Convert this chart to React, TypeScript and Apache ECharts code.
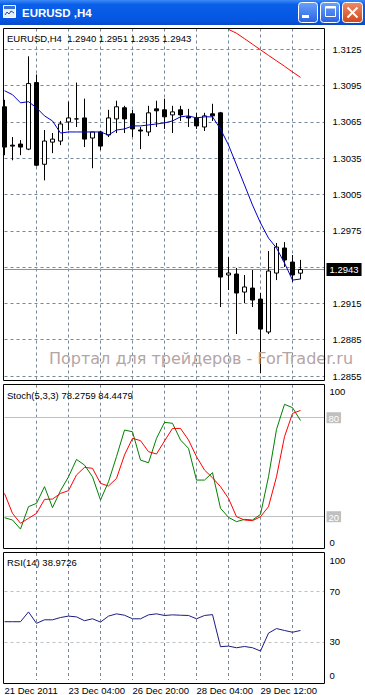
import React, { useEffect, useRef } from 'react';
import * as echarts from 'echarts';

// ---------------- data ----------------
const timeLabels = ['21 Dec 2011', '23 Dec 04:00', '26 Dec 20:00', '28 Dec 04:00', '29 Dec 12:00'];

const opens = [1.30775, 1.30458, 1.30467, 1.30425, 1.30975, 1.3030, 1.30483, 1.30492, 1.3065, 1.30675,
  1.30683, 1.30517, 1.30567, 1.30542, 1.30675, 1.30767, 1.30717, 1.30583, 1.30567, 1.30758,
  1.3075, 1.30708, 1.3075, 1.30692, 1.30683, 1.30608, 1.30717, 1.30725, 1.29385, 1.29393,
  1.29244, 1.29277, 1.29186, 1.28914, 1.29401, 1.29608, 1.29492, 1.2940];
const highs = [1.30833, 1.30525, 1.305, 1.31192, 1.31042, 1.30583, 1.30558, 1.30658, 1.30817, 1.30975,
  1.30842, 1.30567, 1.30575, 1.3075, 1.30825, 1.30783, 1.3075, 1.30608, 1.30783, 1.30825,
  1.30842, 1.30783, 1.30783, 1.30758, 1.30725, 1.30725, 1.308, 1.30733, 1.29533, 1.29443,
  1.29385, 1.29426, 1.29236, 1.29583, 1.29649, 1.29657, 1.2955, 1.2951];
const lows = [1.30375, 1.30333, 1.30375, 1.30417, 1.30283, 1.30167, 1.30392, 1.30458, 1.30583, 1.30608,
  1.30442, 1.30267, 1.30417, 1.30525, 1.30558, 1.30558, 1.30525, 1.30425, 1.30533, 1.30608,
  1.30592, 1.30558, 1.30658, 1.30608, 1.30592, 1.30575, 1.30658, 1.2912, 1.29261, 1.28897,
  1.29153, 1.2912, 1.28575, 1.28897, 1.29343, 1.29451, 1.29327, 1.2935];
const closes = [1.30442, 1.3045, 1.30442, 1.30967, 1.30292, 1.30492, 1.30508, 1.30633, 1.30683, 1.30675,
  1.30508, 1.30567, 1.3045, 1.30683, 1.30775, 1.30675, 1.30592, 1.30575, 1.30725, 1.30742,
  1.30692, 1.30733, 1.30708, 1.30683, 1.30617, 1.307, 1.307, 1.29368, 1.29401, 1.29236,
  1.29286, 1.29178, 1.28938, 1.29418, 1.29616, 1.29509, 1.29385, 1.2943];

const maBlue = [1.30908, 1.30875, 1.30808, 1.30817, 1.30767, 1.307, 1.30658, 1.30558, 1.30567, 1.30567,
  1.30567, 1.30567, 1.30567, 1.30542, 1.30583, 1.30592, 1.30617, 1.30617, 1.30625, 1.30633,
  1.30642, 1.30658, 1.30692, 1.307, 1.30683, 1.30692, 1.30692, 1.30591, 1.30459, 1.30294,
  1.30129, 1.29963, 1.29815, 1.2969, 1.29608, 1.29484, 1.29343, 1.29352];

const redLineStart = 28;
const redLine = [1.31415, 1.31383, 1.31338, 1.31292, 1.31246, 1.312, 1.31155, 1.3111, 1.31063, 1.31018];

const stochMain = [19.4, 18.0, 12.5, 26.1, 28.1, 38.2, 25.5, 35.8, 44.2, 54.7,
  51.3, 44.2, 30.1, 41.2, 56.4, 72.5, 71.5, 54.3, 52.7, 67.5,
  77.2, 76.6, 66.5, 61.4, 42.2, 42.2, 46.7, 25.1, 19.6, 17.0,
  18.4, 18.0, 21.4, 44.2, 72.9, 88.1, 86.1, 78.3];
const stochSignal = [34.1, 22.0, 16.0, 19.0, 22.0, 30.5, 30.7, 34.1, 35.8, 45.3,
  49.9, 49.3, 40.2, 38.6, 43.2, 57.4, 67.5, 66.1, 59.4, 58.0,
  65.9, 73.5, 73.5, 66.5, 56.4, 48.3, 43.6, 38.2, 31.1, 20.0,
  18.0, 17.6, 20.0, 26.1, 44.2, 68.5, 82.6, 84.4];
const rsi = [45.9, 45.9, 45.9, 53.6, 44.6, 47.4, 47.4, 49.2, 50.3, 49.7,
  46.7, 48.2, 45.6, 50.3, 52.1, 51.0, 48.2, 48.2, 51.3, 52.1,
  50.8, 51.3, 51.0, 50.8, 48.2, 50.8, 51.5, 26.2, 26.7, 25.4,
  26.4, 25.4, 22.8, 36.9, 40.5, 39.0, 37.6, 39.0];

const priceTicks = [1.3125, 1.3095, 1.3065, 1.3035, 1.3005, 1.2975, 1.2945, 1.2915, 1.2885, 1.2855];
const hiddenPriceTick = 1.2945;
const lastPrice = 1.2943;
const stochLevels = [80, 20];
const rsiLevels = [70, 30];
const slotCount = 41;

const headerText = 'EURUSD,H4  1.2940 1.2951 1.2935 1.2943';
const stochText = 'Stoch(5,3,3) 78.2759 84.4479';
const rsiText = 'RSI(14) 38.9726';
const windowTitle = 'EURUSD ,H4';
const watermark = 'Портал для трейдеров - ForTrader.ru';

const FONT = '"Liberation Sans", Arial, sans-serif';

export default function App() {
  const ref = useRef<HTMLDivElement>(null);
  useEffect(() => {
    const chart = echarts.init(ref.current!, null, { renderer: 'svg' });
    const slots = Array.from({ length: slotCount }, (_, i) => String(i));
    const candleData = opens.map((o, i) => [o, closes[i], lows[i], highs[i]]);
    const redData = slots.map((_, i) =>
      i >= redLineStart && i - redLineStart < redLine.length ? redLine[i - redLineStart] : null);

    const gridLine = { color: '#778899', type: [3, 3], width: 1 };
    const mkX = (gi: number, labels: boolean) => ({
      type: 'category', gridIndex: gi, data: slots, boundaryGap: false,
      axisLine: { show: false }, axisTick: { show: false },
      axisLabel: labels ? {
        show: true,
        interval: (i: number) => i % 8 === 0 && i / 8 < timeLabels.length,
        formatter: (v: string) => timeLabels[Number(v) / 8] ?? '',
        align: 'left', margin: 5, color: '#000', fontSize: 9.5, fontFamily: FONT,
      } : { show: false },
      splitLine: {
        show: true,
        interval: (i: number) => i % 4 === 0 && i > 0 && i < slotCount - 1,
        lineStyle: gridLine,
      },
    });
    const lbl = { color: '#000', fontSize: 9.5, fontFamily: FONT };

    const option: any = {
      animation: false,
      backgroundColor: '#fff',
      grid: [
        { left: 4.5, width: 320, top: 28.5, height: 352.5 },
        { left: 4.5, width: 320, top: 384.7, height: 165 },
        { left: 4.5, width: 320, top: 553, height: 130 },
      ],
      xAxis: [mkX(0, false), mkX(1, false), mkX(2, true)],
      yAxis: [
        {
          type: 'value', gridIndex: 0, min: 1.28509, max: 1.31422, position: 'right',
          axisLine: { show: false }, axisTick: { show: false }, splitLine: { show: false },
          axisLabel: { show: false },
        },
        {
          type: 'value', gridIndex: 1, min: 0, max: 100, interval: 20, position: 'right',
          axisLine: { show: false }, axisTick: { show: false }, splitLine: { show: false },
          axisLabel: {
            show: true, margin: 2, ...lbl,
            formatter: (v: number) => v === 100 ? '{t|100}' : v === 80 ? '{b|80}' : v === 20 ? '{b|20}' : v === 0 ? '{d|0}' : '',
            rich: {
              t: { ...lbl, padding: [14, 0, 0, 3] },
              d: { ...lbl, padding: [0, 0, 14, 3] },
              b: { ...lbl, color: '#fff', backgroundColor: '#c0c0c0', padding: [1, 2, 0, 2] },
            },
          },
        },
        {
          type: 'value', gridIndex: 2, min: 0, max: 100, interval: 10, position: 'right',
          axisLine: { show: false }, axisTick: { show: false }, splitLine: { show: false },
          axisLabel: {
            show: true, margin: 2, ...lbl,
            formatter: (v: number) => v === 100 ? '{t|100}' : v === 70 ? '{m|70}' : v === 30 ? '{m|30}' : v === 0 ? '{d|0}' : '',
            rich: {
              t: { ...lbl, padding: [14, 0, 0, 3] },
              m: { ...lbl, padding: [0, 0, 0, 3] },
              d: { ...lbl, padding: [0, 0, 10, 3] },
            },
          },
        },
      ],
      series: [
        {
          type: 'candlestick', xAxisIndex: 0, yAxisIndex: 0, data: candleData, barWidth: 4, silent: true,
          itemStyle: { color: '#fff', color0: '#000', borderColor: '#000', borderColor0: '#000', borderWidth: 1 },
          markLine: {
            silent: true, symbol: 'none', z: 1, animation: false, precision: 5,
            lineStyle: { color: '#8593a1', type: 'solid', width: 1 },
            label: {
              show: true, position: 'end', distance: 2, formatter: () => lastPrice.toFixed(4),
              color: '#fff', backgroundColor: '#000', padding: [2, 3, 1, 3], fontSize: 9.5, fontFamily: FONT,
            },
            data: [{ yAxis: lastPrice }],
          },
        },
        {
          type: 'line', xAxisIndex: 0, yAxisIndex: 0, data: maBlue, showSymbol: false, symbol: 'none', silent: true,
          lineStyle: { color: '#0000cc', width: 1 },
          markLine: {
            silent: true, symbol: 'none', z: 1, animation: false, precision: 5,
            lineStyle: gridLine,
            label: {
              show: true, position: 'end', distance: 8, ...lbl,
              formatter: (p: any) => Math.abs(p.value - hiddenPriceTick) < 1e-7 ? '' : Number(p.value).toFixed(4),
            },
            data: priceTicks.map((v) => ({ yAxis: v })),
          },
        },
        {
          type: 'line', xAxisIndex: 0, yAxisIndex: 0, data: redData, showSymbol: false, symbol: 'none', silent: true,
          lineStyle: { color: '#ff0000', width: 1 },
        },
        {
          type: 'line', xAxisIndex: 1, yAxisIndex: 1, data: stochMain, showSymbol: false, symbol: 'none', silent: true,
          lineStyle: { color: '#008000', width: 1 },
          markLine: {
            silent: true, symbol: 'none', z: 1, animation: false, label: { show: false },
            lineStyle: { color: '#c0c0c0', type: 'solid', width: 1 },
            data: stochLevels.map((v) => ({ yAxis: v })),
          },
        },
        {
          type: 'line', xAxisIndex: 1, yAxisIndex: 1, data: stochSignal, showSymbol: false, symbol: 'none', silent: true,
          lineStyle: { color: '#ff0000', width: 1 },
        },
        {
          type: 'line', xAxisIndex: 2, yAxisIndex: 2, data: rsi, showSymbol: false, symbol: 'none', silent: true,
          lineStyle: { color: '#1c1c80', width: 1 },
          markLine: {
            silent: true, symbol: 'none', z: 1, animation: false, label: { show: false },
            lineStyle: { color: '#c0c0c0', type: [3, 3], width: 1 },
            data: rsiLevels.map((v) => ({ yAxis: v })),
          },
        },
      ],
      graphic: [
        // title bar
        {
          type: 'rect', z: 100, shape: { x: 0, y: 0, width: 365, height: 25 },
          style: {
            fill: new echarts.graphic.LinearGradient(0, 0, 0, 1, [
              { offset: 0, color: '#3d8af7' }, { offset: 0.18, color: '#0a5fe8' },
              { offset: 0.8, color: '#0556e2' }, { offset: 1, color: '#0a48c8' },
            ]),
          },
        },
        {
          type: 'rect', z: 101, shape: { x: 3.5, y: 5.5, width: 12, height: 12 },
          style: { fill: '#e8eef8', stroke: '#ffffff', lineWidth: 1 },
        },
        {
          type: 'rect', z: 102, shape: { x: 4, y: 6, width: 11, height: 3 },
          style: { fill: '#3a6fd8' },
        },
        {
          type: 'polyline', z: 102, shape: { points: [[5, 15], [7, 12], [9, 14], [11, 11], [14, 13]] },
          style: { stroke: '#1d4fb8', lineWidth: 1, fill: null },
        },
        {
          type: 'text', z: 101, x: 22, y: 13,
          style: {
            text: windowTitle, fill: '#fff', fontSize: 11.5, fontWeight: 'bold', fontFamily: FONT,
            verticalAlign: 'middle', textShadowColor: '#0a2a8a', textShadowOffsetX: 1, textShadowOffsetY: 1, textShadowBlur: 0,
          },
        },
        // buttons
        {
          type: 'rect', z: 101, shape: { x: 298.5, y: 2.5, width: 19, height: 20, r: 3 },
          style: {
            fill: new echarts.graphic.LinearGradient(0, 0, 0, 1, [{ offset: 0, color: '#6aa2fb' }, { offset: 1, color: '#2a62e2' }]),
            stroke: '#fff', lineWidth: 1,
          },
        },
        { type: 'rect', z: 102, shape: { x: 302, y: 15, width: 7, height: 3 }, style: { fill: '#fff' } },
        {
          type: 'rect', z: 101, shape: { x: 320.5, y: 2.5, width: 19, height: 20, r: 3 },
          style: {
            fill: new echarts.graphic.LinearGradient(0, 0, 0, 1, [{ offset: 0, color: '#6aa2fb' }, { offset: 1, color: '#2a62e2' }]),
            stroke: '#fff', lineWidth: 1,
          },
        },
        { type: 'rect', z: 102, shape: { x: 325.5, y: 6.5, width: 10, height: 10 }, style: { fill: null, stroke: '#fff', lineWidth: 1 } },
        { type: 'rect', z: 102, shape: { x: 325.5, y: 6.5, width: 10, height: 2 }, style: { fill: '#fff' } },
        {
          type: 'rect', z: 101, shape: { x: 342.5, y: 2.5, width: 20, height: 20, r: 3 },
          style: {
            fill: new echarts.graphic.LinearGradient(0, 0, 0, 1, [{ offset: 0, color: '#ee8a68' }, { offset: 1, color: '#d0481c' }]),
            stroke: '#fff', lineWidth: 1,
          },
        },
        { type: 'line', z: 102, shape: { x1: 347.5, y1: 7.5, x2: 357.5, y2: 17.5 }, style: { stroke: '#fff', lineWidth: 2 } },
        { type: 'line', z: 102, shape: { x1: 357.5, y1: 7.5, x2: 347.5, y2: 17.5 }, style: { stroke: '#fff', lineWidth: 2 } },
        // pane borders
        { type: 'rect', z: 100, shape: { x: 3.5, y: 28.5, width: 321, height: 352 }, style: { fill: null, stroke: '#000', lineWidth: 1 } },
        { type: 'rect', z: 100, shape: { x: 3.5, y: 384.5, width: 321, height: 164 }, style: { fill: null, stroke: '#000', lineWidth: 1 } },
        { type: 'rect', z: 100, shape: { x: 3.5, y: 552.5, width: 321, height: 131 }, style: { fill: null, stroke: '#000', lineWidth: 1 } },
        // pane captions
        { type: 'text', z: 100, x: 7, y: 38.5, style: { text: headerText, fill: '#000', fontSize: 9.5, fontFamily: FONT, verticalAlign: 'middle' } },
        { type: 'text', z: 100, x: 7, y: 395, style: { text: stochText, fill: '#000', fontSize: 9.5, fontFamily: FONT, verticalAlign: 'middle' } },
        { type: 'text', z: 100, x: 7, y: 562, style: { text: rsiText, fill: '#000', fontSize: 9.5, fontFamily: FONT, verticalAlign: 'middle' } },
        // watermark
        { type: 'text', z: 99, x: 49, y: 358, style: { text: watermark, fill: '#b4a5a5', fontSize: 16, fontFamily: '"DejaVu Sans", sans-serif', verticalAlign: 'middle' } },
      ],
    };
    chart.setOption(option);
    return () => chart.dispose();
  }, []);
  return <div ref={ref} style={{ position: 'fixed', left: 0, top: 0, width: 365, height: 695, background: '#fff' }} />;
}
